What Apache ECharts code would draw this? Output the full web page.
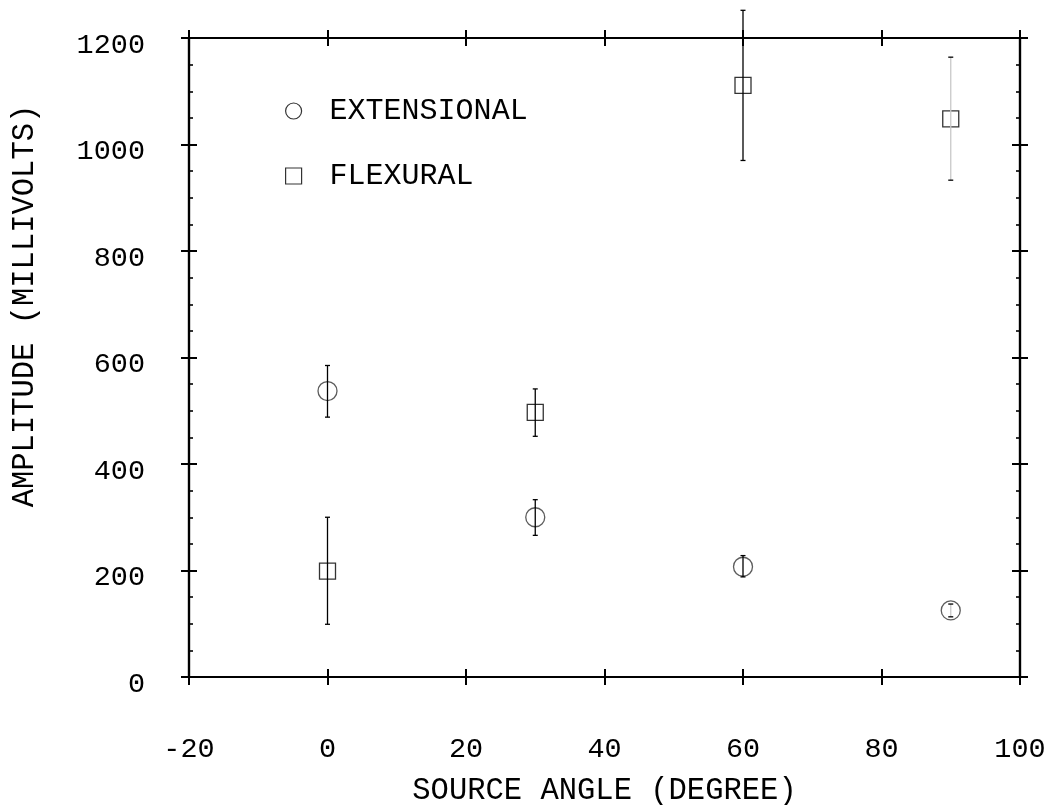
<!DOCTYPE html>
<html>
<head>
<meta charset="utf-8">
<script src="https://cdn.jsdelivr.net/npm/echarts@6/dist/echarts.min.js"></script>
<style>html,body{margin:0;padding:0;background:#fff}#c{width:1055px;height:805px}</style>
</head>
<body>
<div id="c"></div>
<script>
// ---- data ----
const angles = [0, 30, 60, 90];
const extensional = [537, 300, 207, 125];
const extensionalLow = [488, 266, 188, 113];
const extensionalHigh = [585, 333, 228, 137];
const flexural = [199, 497, 1111, 1048];
const flexuralLow = [99, 452, 970, 933];
const flexuralHigh = [300, 541, 1252, 1164];
const xTicks = [-20, 0, 20, 40, 60, 80, 100];
const yTicks = [0, 200, 400, 600, 800, 1000, 1200];

// style: faint (light grey) error bars per point
const extFaint = [false, false, false, true];
const flexFaint = [false, false, false, true];

const FONT = 'Liberation Mono';
const chart = echarts.init(document.getElementById('c'), null, {renderer: 'canvas'});

function errData(lo, hi, faint) {
  return angles.map((a, i) => [a, lo[i], hi[i], faint[i] ? 1 : 0]);
}
function errRender(params, api) {
  const x = api.value(0);
  const top = api.coord([x, api.value(2)]);
  const bot = api.coord([x, api.value(1)]);
  const faint = api.value(3) === 1;
  const stem = faint ? '#c8c8c8' : '#000';
  const w = 2.5;
  return {
    type: 'group',
    children: [
      {type: 'line', shape: {x1: top[0], y1: top[1], x2: bot[0], y2: bot[1]}, style: {stroke: stem, lineWidth: 1.3}},
      {type: 'line', shape: {x1: top[0] - w, y1: top[1], x2: top[0] + w, y2: top[1]}, style: {stroke: '#000', lineWidth: 1.3}},
      {type: 'line', shape: {x1: bot[0] - w, y1: bot[1], x2: bot[0] + w, y2: bot[1]}, style: {stroke: '#000', lineWidth: 1.3}}
    ]
  };
}

const axisLine = {show: true, onZero: false, lineStyle: {color: '#000', width: 2.2}};
const labelStyle = {color: '#000', fontFamily: FONT, fontSize: 28.5};

function xAx(pos, inside, labels) {
  return {
    type: 'value', min: xTicks[0], max: xTicks[xTicks.length - 1], interval: xTicks[1] - xTicks[0], position: pos,
    axisLine: axisLine,
    axisTick: {show: true, inside: inside, length: 8, lineStyle: {color: '#000', width: 2}},
    axisLabel: labels ? Object.assign({show: true, margin: 58, formatter: v => String(v)}, labelStyle) : {show: false},
    splitLine: {show: false},
    name: labels ? 'SOURCE ANGLE (DEGREE)' : '',
    nameLocation: 'middle', nameGap: 98,
    nameTextStyle: {color: '#000', fontFamily: FONT, fontSize: 30.5}
  };
}
function yAx(pos, inside, labels) {
  return {
    type: 'value', min: yTicks[0], max: yTicks[yTicks.length - 1], interval: yTicks[1] - yTicks[0], position: pos,
    axisLine: axisLine,
    axisTick: {show: true, inside: inside, length: 8, lineStyle: {color: '#000', width: 2}},
    minorTick: inside ? {show: true, splitNumber: 4, length: 4, lineStyle: {color: '#000', width: 1.6}} : {show: false},
    axisLabel: labels ? Object.assign({
      show: true, margin: 44,
      formatter: v => '{t|' + v + '}',
      rich: {t: {fontFamily: FONT, fontSize: 28.5, color: '#000', padding: [14, 0, 0, 0]}}
    }, labelStyle) : {show: false},
    splitLine: {show: false}, minorSplitLine: {show: false}
  };
}

chart.setOption({
  animation: false,
  backgroundColor: '#fff',
  grid: {left: 189, right: 35, top: 38, bottom: 128, containLabel: false, outerBoundsMode: 'none'},
  legend: {
    orient: 'vertical', left: 280, top: 91,
    itemWidth: 16, itemHeight: 16, itemGap: 35,
    textStyle: {color: '#000', fontFamily: FONT, fontSize: 30, padding: [0, 0, 0, 23]},
    data: [
      {name: 'EXTENSIONAL', icon: 'circle', itemStyle: {color: 'transparent', borderColor: '#000', borderWidth: 1.2}},
      {name: 'FLEXURAL', icon: 'rect', itemStyle: {color: 'transparent', borderColor: '#000', borderWidth: 1.2}}
    ]
  },
  graphic: [{
    type: 'text', x: 25, y: 306, rotation: Math.PI / 2,
    style: {text: 'AMPLITUDE (MILLIVOLTS)', fill: '#000', font: '30.5px "Liberation Mono"', align: 'center', verticalAlign: 'middle'}
  }],
  xAxis: [xAx('bottom', false, true), xAx('bottom', true, false), xAx('top', false, false), xAx('top', true, false)],
  yAxis: [yAx('left', false, true), yAx('left', true, false), yAx('right', false, false), yAx('right', true, false)],
  series: [
    {
      name: 'EXTENSIONAL', type: 'scatter', symbol: 'circle', symbolSize: 19,
      itemStyle: {color: 'transparent', borderColor: '#333', borderWidth: 1.3},
      data: angles.map((a, i) => [a, extensional[i]]), z: 3
    },
    {
      name: 'FLEXURAL', type: 'scatter', symbol: 'rect', symbolSize: 16,
      itemStyle: {color: 'transparent', borderColor: '#000', borderWidth: 1.3},
      data: angles.map((a, i) => [a, flexural[i]]), z: 3
    },
    {type: 'custom', renderItem: errRender, clip: false, data: errData(extensionalLow, extensionalHigh, extFaint), z: 4, silent: true},
    {type: 'custom', renderItem: errRender, clip: false, data: errData(flexuralLow, flexuralHigh, flexFaint), z: 4, silent: true}
  ]
});
</script>
</body>
</html>
